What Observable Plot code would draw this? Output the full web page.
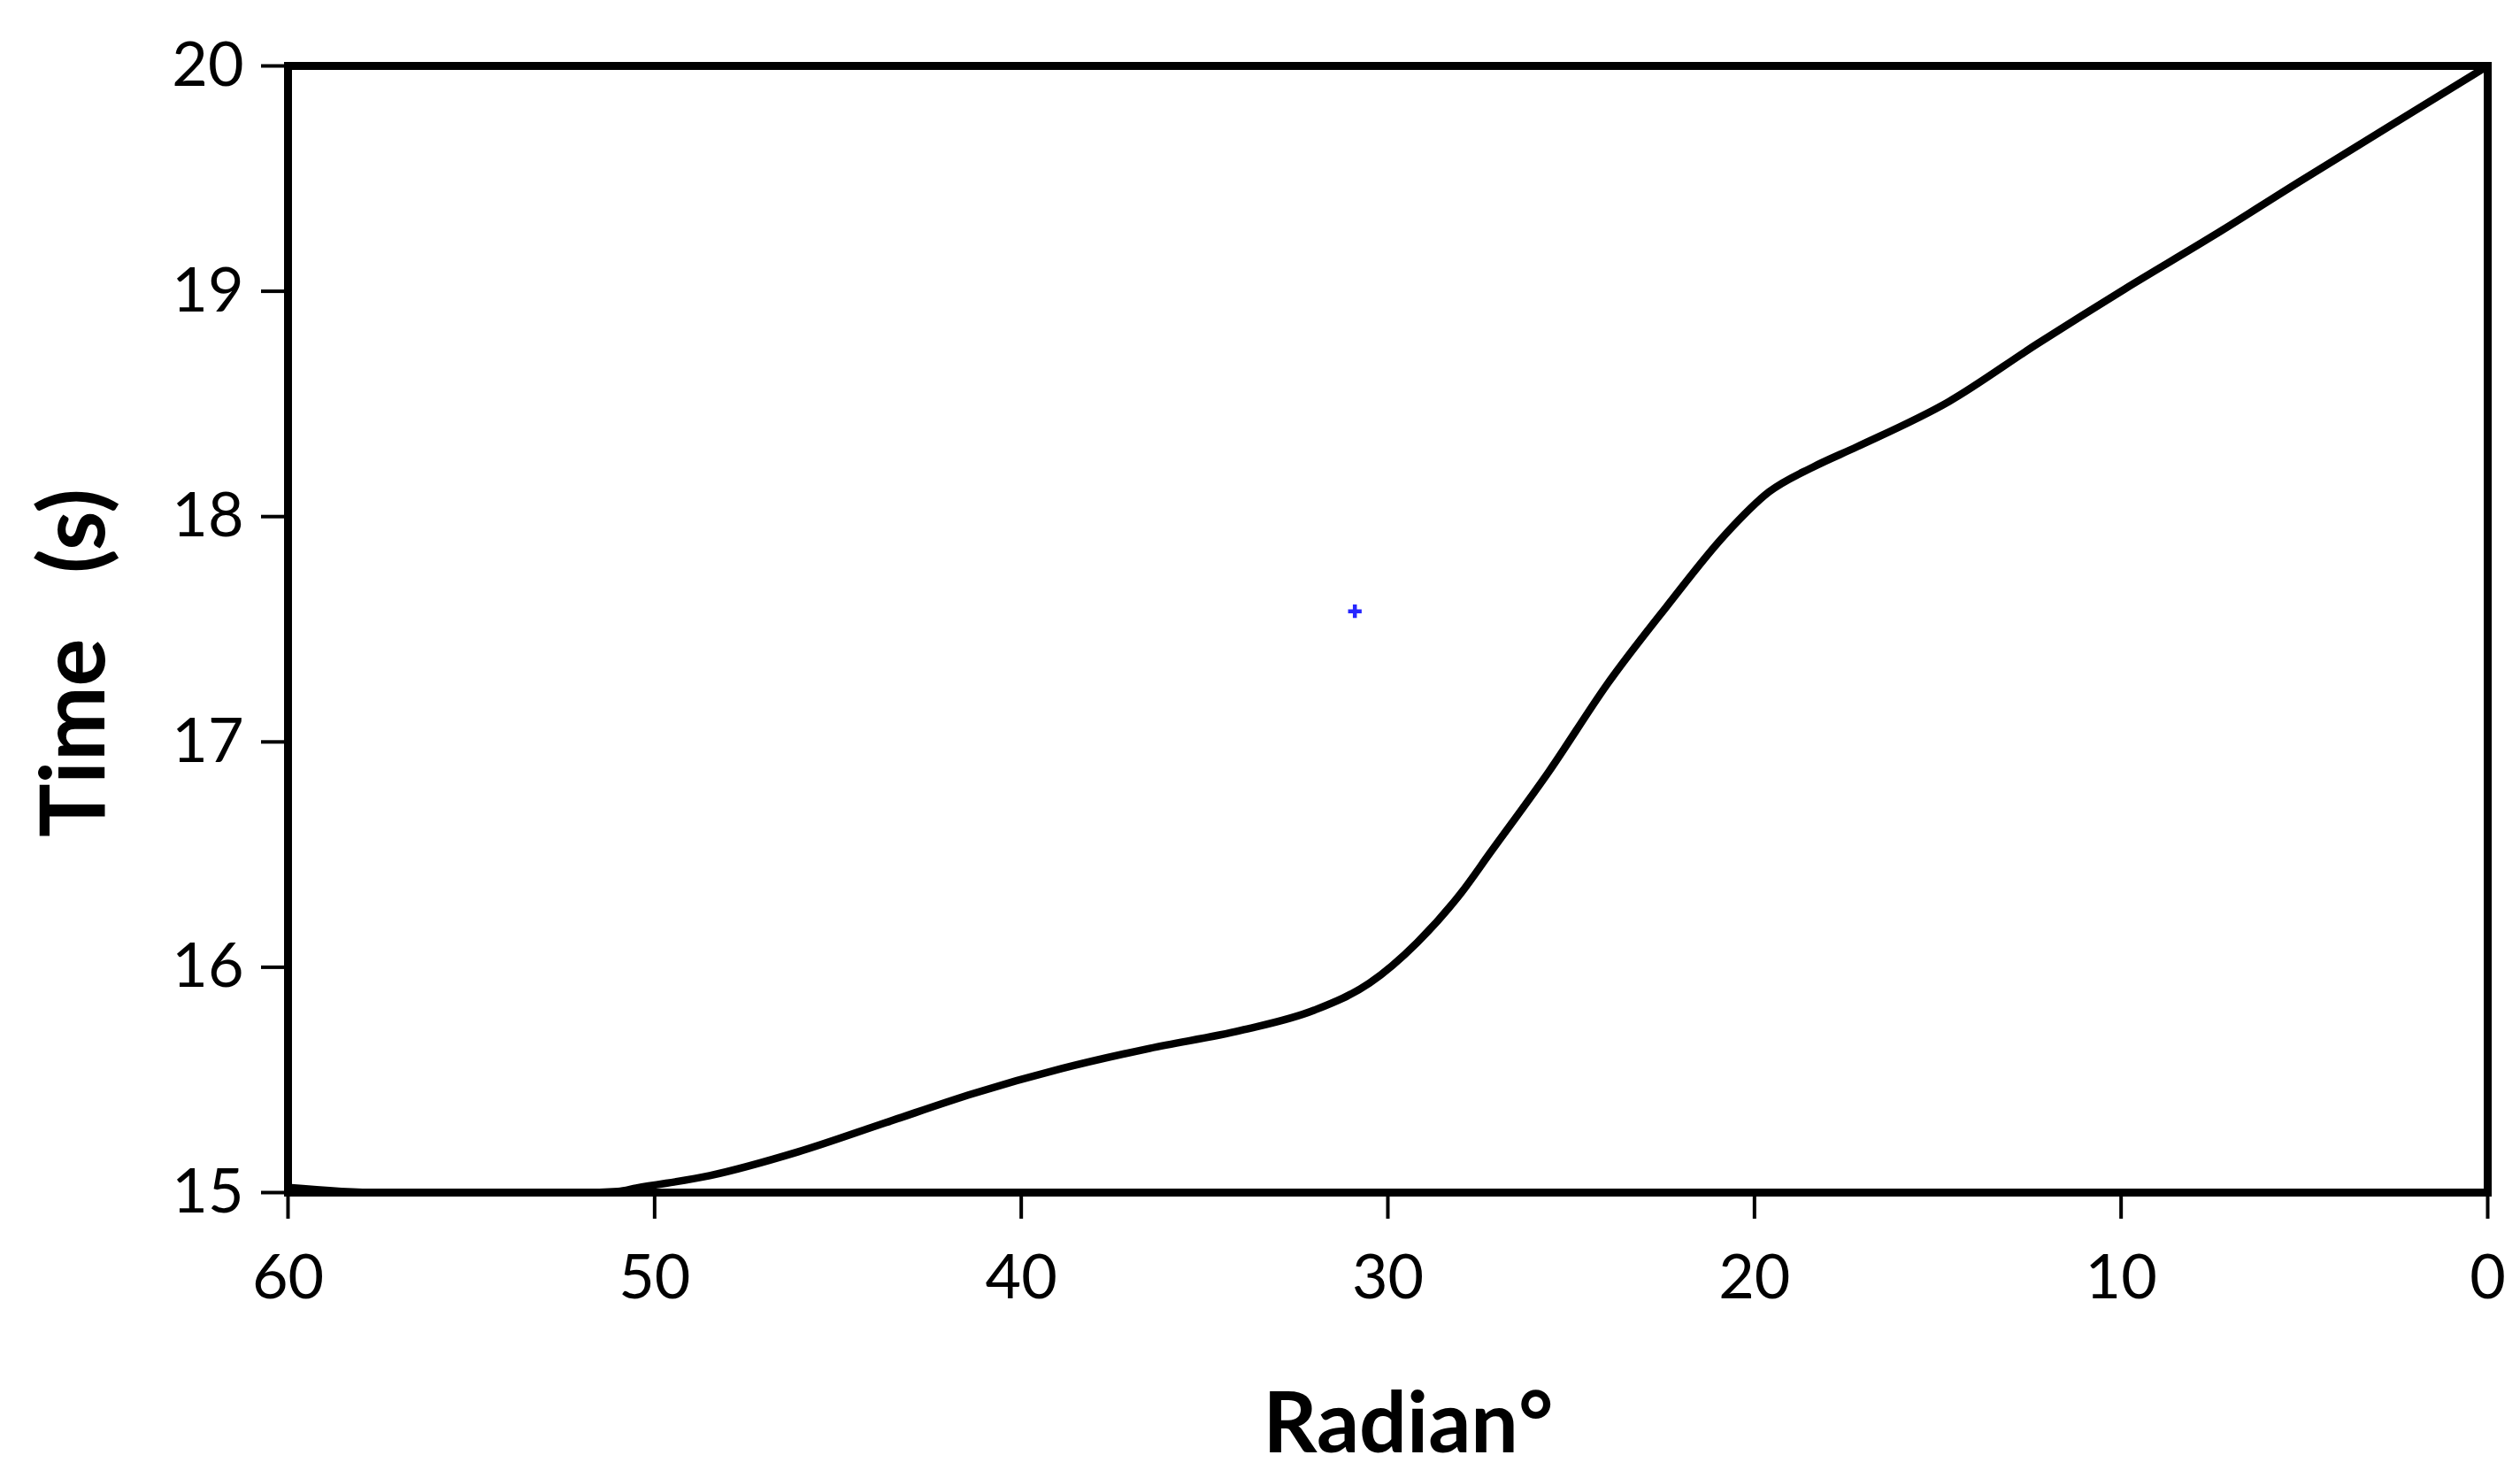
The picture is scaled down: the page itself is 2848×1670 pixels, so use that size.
<!DOCTYPE html>
<html>
<head>
<meta charset="utf-8">
<script src="https://cdn.jsdelivr.net/npm/d3@7"></script>
<script src="https://cdn.jsdelivr.net/npm/@observablehq/plot@0.6"></script>
<style>
  html, body { margin: 0; padding: 0; background: #fff; }
  #chart svg { display: block; }
</style>
</head>
<body>
<div id="chart"></div>
<script>
// Curve: x = Radian°, y = Time (s)
const radian = [60, 57.5, 52, 51, 50.5, 48.5, 46.1, 43.7, 41.3, 38.9, 36.5, 34, 32, 30.5, 29.2, 28, 27.2, 25.6, 24, 22.4, 20.8, 19.6, 18.4, 17.2, 14.7, 12.3, 9.9, 7.5, 5.1, 2.7, 0];
const time   = [15.023, 15.0, 15.0, 15.005, 15.02, 15.075, 15.18, 15.31, 15.44, 15.55, 15.64, 15.72, 15.81, 15.93, 16.11, 16.33, 16.51, 16.87, 17.26, 17.60, 17.92, 18.11, 18.22, 18.31, 18.51, 18.765, 19.01, 19.245, 19.49, 19.73, 20.0];

// Stray blue marker
const markerX = [30.9];
const markerY = [17.58];

const xTicks = [60, 50, 40, 30, 20, 10, 0];
const yTicks = [15, 16, 17, 18, 19, 20];
const xTitle = "Radian°";
const yTitle = "Time\u00a0\u00a0\u00a0(s)";

const curve = radian.map((r, i) => ({r, t: time[i]}));
const marker = markerX.map((r, i) => ({r, t: markerY[i]}));

const chart = Plot.plot({
  width: 2848,
  height: 1670,
  marginLeft: 325,
  marginRight: 37,
  marginTop: 74,
  marginBottom: 323,
  style: {fontFamily: "Lato, 'DejaVu Sans', sans-serif", fontSize: "70px", color: "#000", background: "#fff"},
  x: {domain: [60, 0]},
  y: {domain: [15, 20]},
  marks: [
    Plot.axisX({ticks: xTicks, tickFormat: d => String(d), tickSize: 30, tickPadding: 40, strokeWidth: 4, label: null}),
    Plot.axisY({ticks: yTicks, tickFormat: d => String(d), tickSize: 30, tickPadding: 20, strokeWidth: 4, label: null}),
    Plot.line(curve, {x: "r", y: "t", stroke: "#000", strokeWidth: 8.5, curve: "monotone-x"}),
    Plot.dot(marker, {x: "r", y: "t", symbol: "plus", r: 5, stroke: "#0000ff", strokeWidth: 4.5, strokeOpacity: 0.85}),
    Plot.frame({stroke: "#000", strokeWidth: 9}),
    Plot.text([xTitle], {frameAnchor: "bottom", dx: 23, dy: 293, lineAnchor: "bottom", textAnchor: "middle", fontSize: 95, fontWeight: "bold", fill: "#000"}),
    Plot.text([yTitle], {frameAnchor: "left", dx: -208, dy: 38, rotate: -90, lineAnchor: "bottom", textAnchor: "middle", fontSize: 101, fontWeight: "bold", fill: "#000"})
  ]
});
document.getElementById("chart").appendChild(chart);
</script>
</body>
</html>
